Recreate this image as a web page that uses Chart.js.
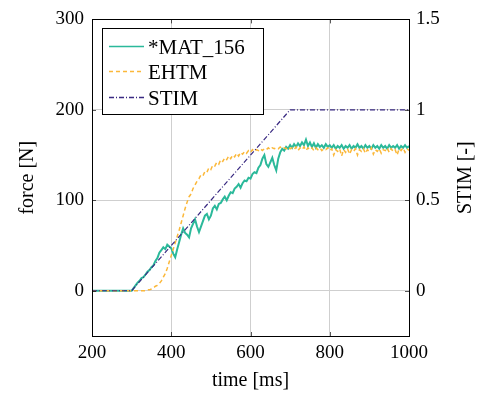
<!DOCTYPE html>
<html>
<head>
<meta charset="utf-8">
<script src="https://cdn.jsdelivr.net/npm/chart.js@4/dist/chart.umd.min.js"></script>
<style>
  html, body { margin: 0; padding: 0; background: #fff; }
  canvas { display: block; }
</style>
</head>
<body>
<canvas id="chart" width="487" height="394"></canvas>
<script>
// sample times [ms]
const timeMs = [
  200,
  300, 305, 310, 315, 320, 325, 330, 335, 340, 345,
  350, 355, 360, 365, 370, 375, 380, 385, 390, 395,
  400, 405, 410, 415, 420, 425, 430, 435, 440, 445,
  450, 455, 460, 465, 470, 475, 480, 485, 490, 495,
  500, 505, 510, 515, 520, 525, 530, 535, 540, 545,
  550, 555, 560, 565, 570, 575, 580, 585, 590, 595,
  600, 605, 610, 615, 620, 625, 630, 635, 640, 645,
  650, 655, 660, 665, 670, 675, 680, 685, 690, 695,
  700, 705, 710, 715, 720, 725, 730, 735, 740, 745,
  750, 755, 760, 765, 770, 775, 780, 785, 790, 795,
  800, 805, 810, 815, 820, 825, 830, 835, 840, 845,
  850, 855, 860, 865, 870, 875, 880, 885, 890, 895,
  900, 905, 910, 915, 920, 925, 930, 935, 940, 945,
  950, 955, 960, 965, 970, 975, 980, 985, 990, 995,
  1000
];

// *MAT_156 force [N]
const matForce = [
  0,
  0, 3, 6, 9, 11, 14, 15, 18, 21, 23,
  26, 28, 33, 36, 42, 45, 48, 46, 51, 49,
  47, 41, 37, 46, 54, 62, 69, 64, 62, 59,
  69, 74, 79, 71, 65, 71, 77, 83, 85, 79,
  83, 91, 94, 90, 96, 97, 101, 104, 100, 105,
  109, 108, 113, 115, 118, 114, 119, 122, 121, 125,
  124, 129, 131, 130, 136, 139, 146, 150, 140, 137,
  142, 147, 139, 133, 146, 153, 157, 155, 159, 157,
  161, 158, 162, 159, 163, 160, 164, 161, 167, 160,
  164, 159, 163, 158, 162, 159, 161, 158, 162, 159,
  161, 158, 161, 157, 160, 158, 161, 157, 160, 158,
  161, 157, 160, 158, 162, 158, 160, 157, 161, 158,
  160, 157, 161, 158, 160, 157, 161, 158, 160, 157,
  161, 158, 160, 158, 161, 157, 160, 158, 161, 158,
  160
];

// EHTM force [N]
const ehtmForce = [
  0,
  0, 0, 0, 0, 0, 0, 0, 0, 1, 1,
  2, 3, 5, 6, 8, 11, 15, 19, 25, 32,
  39, 46, 53, 60, 67, 75, 83, 91, 98, 104,
  107, 113, 117, 121, 124, 128, 127, 132, 131, 136,
  134, 139, 138, 142, 140, 145, 143, 147, 145, 149,
  146, 150, 148, 152, 149, 153, 151, 154, 152, 155,
  153, 156, 154, 156, 155, 157, 155, 157, 156, 158,
  156, 158, 157, 158, 157, 159, 157, 158, 157, 159,
  157, 158, 156, 159, 155, 158, 156, 159, 155, 158,
  156, 158, 155, 158, 156, 158, 155, 157, 156, 158,
  155, 157, 150, 156, 154, 157, 149, 156, 153, 157,
  151, 156, 154, 157, 150, 156, 154, 157, 152, 156,
  154, 158, 151, 156, 154, 157, 152, 156, 155, 158,
  153, 157, 154, 156, 150, 157, 155, 158, 153, 157,
  155
];

// STIM [-]
const stimTime = [200, 300, 700, 1000];
const stimValue = [0, 0, 1, 1];

const xTicks = [200, 400, 600, 800, 1000];
const forceTicks = [0, 100, 200, 300];
const stimTicks = [0, 0.5, 1, 1.5];

const FONT = "'Liberation Serif', 'Times New Roman', serif";
const GREEN = '#2bb99a';
const ORANGE = '#fbb83a';
const PURPLE = '#3a2a82';

const legendItems = [
  { label: '*MAT_156', color: GREEN, dash: [] },
  { label: 'EHTM', color: ORANGE, dash: [4, 3] },
  { label: 'STIM', color: PURPLE, dash: [5, 2, 1, 2] }
];

const frameAndLabels = {
  id: 'frameAndLabels',
  afterDatasetsDraw(chart) {
    const ctx = chart.ctx;
    const a = chart.chartArea;
    const xs = chart.scales.x, ys = chart.scales.y, y1 = chart.scales.y1;
    ctx.save();

    // inward ticks
    ctx.strokeStyle = 'rgba(0,0,0,0.65)';
    ctx.lineWidth = 1;
    ctx.beginPath();
    xTicks.forEach(v => {
      const px = Math.round(xs.getPixelForValue(v)) + 0.5;
      ctx.moveTo(px, a.bottom); ctx.lineTo(px, a.bottom - 4);
      ctx.moveTo(px, a.top); ctx.lineTo(px, a.top + 4);
    });
    forceTicks.forEach(v => {
      const py = Math.round(ys.getPixelForValue(v)) + 0.5;
      ctx.moveTo(a.left, py); ctx.lineTo(a.left + 4, py);
    });
    stimTicks.forEach(v => {
      const py = Math.round(y1.getPixelForValue(v)) + 0.5;
      ctx.moveTo(a.right, py); ctx.lineTo(a.right - 4, py);
    });
    ctx.stroke();

    // frame
    ctx.strokeStyle = '#000';
    ctx.strokeRect(Math.round(a.left) + 0.5, Math.round(a.top) + 0.5,
      Math.round(a.right - a.left), Math.round(a.bottom - a.top));

    // axis titles
    ctx.fillStyle = '#000';
    ctx.font = '20px ' + FONT;
    ctx.textAlign = 'center';
    ctx.textBaseline = 'middle';
    ctx.fillText('time [ms]', (a.left + a.right) / 2, 381);
    ctx.save();
    ctx.translate(28, (a.top + a.bottom) / 2);
    ctx.rotate(-Math.PI / 2);
    ctx.fillText('force [N]', 0, 0);
    ctx.restore();
    ctx.save();
    ctx.translate(466, (a.top + a.bottom) / 2);
    ctx.rotate(-Math.PI / 2);
    ctx.fillText('STIM [-]', 0, 0);
    ctx.restore();

    // legend
    const lx = 102.5, ly = 28.5, lw = 161, lh = 86;
    ctx.fillStyle = '#fff';
    ctx.fillRect(lx, ly, lw, lh);
    ctx.strokeStyle = '#000';
    ctx.strokeRect(lx, ly, lw, lh);
    const rows = [46, 71, 97];
    ctx.font = '21px ' + FONT;
    ctx.textAlign = 'left';
    ctx.textBaseline = 'alphabetic';
    legendItems.forEach((it, i) => {
      ctx.strokeStyle = it.color;
      ctx.lineWidth = 1.3;
      ctx.setLineDash(it.dash);
      ctx.beginPath();
      ctx.moveTo(109, rows[i] + 0.5);
      ctx.lineTo(144, rows[i] + 0.5);
      ctx.stroke();
      ctx.setLineDash([]);
      ctx.fillStyle = '#000';
      ctx.fillText(it.label, 148, rows[i] + 7.5);
    });
    ctx.restore();
  }
};

new Chart(document.getElementById('chart').getContext('2d'), {
  type: 'line',
  data: {
    datasets: [
      {
        label: '*MAT_156',
        data: timeMs.map((t, i) => ({ x: t, y: matForce[i] })),
        borderColor: GREEN,
        borderWidth: 2,
        borderJoinStyle: 'miter',
        pointRadius: 0,
        yAxisID: 'y',
        order: 2
      },
      {
        label: 'EHTM',
        data: timeMs.map((t, i) => ({ x: t, y: ehtmForce[i] })),
        borderColor: ORANGE,
        borderWidth: 1.5,
        borderDash: [4, 3],
        pointRadius: 0,
        yAxisID: 'y',
        order: 1
      },
      {
        label: 'STIM',
        data: stimTime.map((t, i) => ({ x: t, y: stimValue[i] })),
        borderColor: PURPLE,
        borderWidth: 1.2,
        borderDash: [5, 2, 1, 2],
        pointRadius: 0,
        yAxisID: 'y1',
        order: 0
      }
    ]
  },
  options: {
    responsive: false,
    animation: false,
    devicePixelRatio: 1,
    layout: { padding: { top: 18, left: 0, right: 0, bottom: 0 } },
    plugins: {
      legend: { display: false },
      tooltip: { enabled: false }
    },
    scales: {
      x: {
        type: 'linear',
        min: 200,
        max: 1000,
        afterBuildTicks: s => { s.ticks = xTicks.map(v => ({ value: v })); },
        afterFit: s => { s.height = 58; },
        grid: { color: '#cfcfcf', drawTicks: false },
        border: { display: false },
        ticks: {
          padding: 6,
          color: '#000',
          font: { family: FONT, size: 19 },
          callback: v => String(v)
        }
      },
      y: {
        position: 'left',
        min: -50,
        max: 300,
        afterBuildTicks: s => { s.ticks = forceTicks.map(v => ({ value: v })); },
        afterFit: s => { s.width = 92; },
        grid: { color: '#cfcfcf', drawTicks: false },
        border: { display: false },
        ticks: {
          padding: 8,
          color: '#000',
          font: { family: FONT, size: 19 },
          callback: v => String(v)
        }
      },
      y1: {
        position: 'right',
        min: -0.25,
        max: 1.5,
        afterBuildTicks: s => { s.ticks = stimTicks.map(v => ({ value: v })); },
        afterFit: s => { s.width = 78; },
        grid: { drawOnChartArea: false, drawTicks: false },
        border: { display: false },
        ticks: {
          padding: 7,
          color: '#000',
          font: { family: FONT, size: 19 },
          callback: v => String(v)
        }
      }
    }
  },
  plugins: [frameAndLabels]
});
</script>
</body>
</html>
